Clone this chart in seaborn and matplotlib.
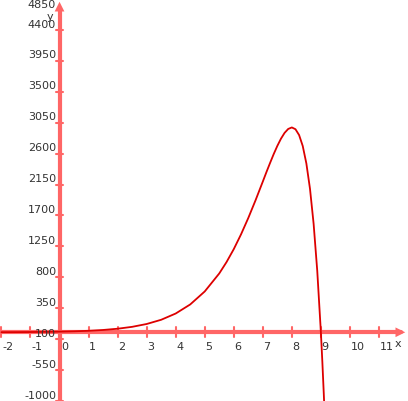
import matplotlib
matplotlib.use("Agg")
import matplotlib.pyplot as plt
import seaborn as sns
import pandas as pd

x_vals = [-2,-1.5,-1,-0.5,0,0.5,1,1.5,2,2.5,3,3.5,4,4.5,5,5.5,5.75,6,6.25,6.5,6.75,7,7.125,7.25,7.375,7.5,7.625,7.75,7.875,8,8.125,8.25,8.375,8.5,8.625,8.75,8.875,9,9.05,9.1,9.15]
y_vals = [1.5,2.3,3.7,5.8,9,14,21.7,33.6,51.7,79.2,120.5,182,273,405,594,856,1021,1210,1425,1663,1921,2193,2331,2464,2593,2712,2817,2902,2959,2981,2955,2870,2711,2457,2088,1578,894,0,-426,-896,-1412]
x_ticks = [-2,-1,1,2,3,4,5,6,7,8,9,10,11]
y_ticks = [-1000,-550,-100,350,800,1250,1700,2150,2600,3050,3500,3950,4400]
y_labels = ["-1000","-550","100","350","800","1250","1700","2150","2600","3050","3500","3950","4400"]
top_label = "4850"

sns.set_style("white")
fig = plt.figure(figsize=(4.08,4.02), dpi=100)
ax = fig.add_axes([0,0,1,1])
xmin, xmax, ymin, ymax = -2.05, 12.0, -1000, 4850
ax.set_xlim(xmin, xmax); ax.set_ylim(ymin, ymax)
ax.axis("off")
axc = "#ff6666"
ax.plot([xmin, xmax-0.25],[0,0], color=axc, lw=3, zorder=1)
ax.plot([0,0],[ymin, ymax-150], color=axc, lw=3, zorder=1)
ax.annotate("", xy=(xmax,0), xytext=(xmax-0.5,0), arrowprops=dict(arrowstyle="-|>,head_width=0.35,head_length=0.7", color=axc, lw=0))
ax.annotate("", xy=(0,ymax), xytext=(0,ymax-300), arrowprops=dict(arrowstyle="-|>,head_width=0.35,head_length=0.7", color=axc, lw=0))
df = pd.DataFrame({"x": x_vals, "y": y_vals})
sns.lineplot(data=df, x="x", y="y", ax=ax, color="#dd0000", lw=1.3, zorder=3, sort=False)
for t in x_ticks:
    ax.plot([t,t],[-70,70], color=axc, lw=1.5)
    ax.text(t+0.02, -120, str(t), ha="left", va="top", fontsize=8, color="#333333")
for t, l in zip(y_ticks, y_labels):
    ax.plot([-0.12,0.12],[t,t], color=axc, lw=1.5)
    ax.text(-0.12, t+20, l, ha="right", va="bottom", fontsize=8, color="#333333")
ax.text(-0.12, ymax, top_label, ha="right", va="top", fontsize=8, color="#333333")
ax.text(-0.45, 4560, "y", fontsize=8, color="#333333")
ax.text(11.55, -80, "x", fontsize=8, color="#333333", va="top")
ax.text(0.05, -120, "0", fontsize=8, color="#333333", va="top")
fig.savefig("out.png", dpi=100)
